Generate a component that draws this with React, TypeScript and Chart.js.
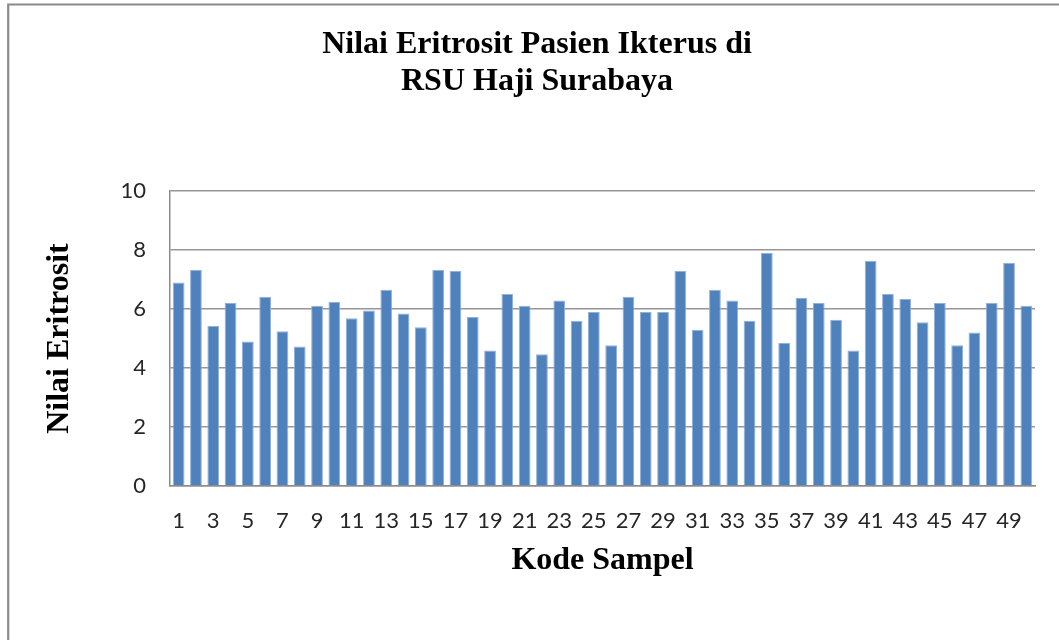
import React, { useEffect, useRef } from "react";
import { Chart, registerables } from "chart.js";

Chart.register(...registerables);

const titleLines = ["Nilai Eritrosit Pasien Ikterus di", "RSU Haji Surabaya"];
const xTitle = "Kode Sampel";
const yTitle = "Nilai Eritrosit";

const categories: string[] = [
  "1", "2", "3", "4", "5", "6", "7", "8", "9", "10",
  "11", "12", "13", "14", "15", "16", "17", "18", "19", "20",
  "21", "22", "23", "24", "25", "26", "27", "28", "29", "30",
  "31", "32", "33", "34", "35", "36", "37", "38", "39", "40",
  "41", "42", "43", "44", "45", "46", "47", "48", "49", "50",
];

const eritrosit: number[] = [
  6.9, 7.33, 5.43, 6.2, 4.9, 6.42, 5.25, 4.73, 6.11, 6.25,
  5.69, 5.95, 6.65, 5.85, 5.38, 7.33, 7.3, 5.73, 4.59, 6.51,
  6.11, 4.47, 6.29, 5.6, 5.9, 4.77, 6.42, 5.9, 5.9, 7.3,
  5.29, 6.65, 6.29, 5.6, 7.9, 4.85, 6.37, 6.2, 5.64, 4.59,
  7.64, 6.51, 6.34, 5.55, 6.2, 4.77, 5.2, 6.2, 7.56, 6.11,
];

const yMin = 0;
const yMax = 10;
const yStep = 2;

const framePlugin = {
  id: "frame",
  beforeDraw(chart: any) {
    const ctx = chart.ctx;
    ctx.save();
    ctx.fillStyle = "#ffffff";
    ctx.fillRect(0, 0, chart.width, chart.height);
    ctx.strokeStyle = "#8a8a8a";
    ctx.lineWidth = 2.2;
    ctx.beginPath();
    ctx.moveTo(8.2, chart.height);
    ctx.lineTo(8.2, 4.5);
    ctx.lineTo(chart.width, 4.5);
    ctx.stroke();
    ctx.restore();
  },
};

export default function App() {
  const canvasRef = useRef<HTMLCanvasElement | null>(null);

  useEffect(() => {
    if (!canvasRef.current) return;
    const chart = new Chart(canvasRef.current, {
      type: "bar",
      data: {
        labels: categories,
        datasets: [
          {
            label: yTitle,
            data: eritrosit,
            backgroundColor: "#4F81BD",
            borderColor: "#93B0D8",
            borderWidth: 1,
            barPercentage: 0.68,
            categoryPercentage: 1,
          },
        ],
      },
      options: {
        animation: false,
        responsive: false,
        maintainAspectRatio: false,
        layout: { padding: { left: 39, right: 24, top: 0, bottom: 0 } },
        plugins: {
          legend: { display: false },
          tooltip: { enabled: false },
          title: {
            display: true,
            text: titleLines,
            color: "#000000",
            font: { family: "'Liberation Serif', 'Times New Roman', serif", size: 32, weight: "bold", lineHeight: 1.16 },
            padding: { top: 26.5, bottom: 90.3 },
          },
        },
        scales: {
          x: {
            grid: { display: false, drawTicks: false },
            border: { display: true, color: "#8c8c8c", width: 1.5 },
            ticks: {
              autoSkip: false,
              maxRotation: 0,
              minRotation: 0,
              padding: 22,
              color: "#262626",
              font: { family: "Lato, 'Open Sans', sans-serif", size: 22 },
              callback: (_v: any, i: number) => (i % 2 === 0 ? categories[i] : ""),
            },
            title: {
              display: true,
              text: xTitle,
              color: "#000000",
              font: { family: "'Liberation Serif', 'Times New Roman', serif", size: 32, weight: "bold" },
              padding: { top: 0, bottom: 60 },
            },
            afterFit: (scale: any) => {
              scale.height = 154;
            },
          },
          y: {
            min: yMin,
            max: yMax,
            grid: { color: "#969696", lineWidth: 1.6, drawTicks: false },
            border: { display: true, color: "#8c8c8c", width: 1.5 },
            ticks: {
              stepSize: yStep,
              padding: 24,
              color: "#262626",
              font: { family: "Lato, 'Open Sans', sans-serif", size: 22 },
            },
            title: {
              display: true,
              text: yTitle,
              color: "#000000",
              font: { family: "'Liberation Serif', 'Times New Roman', serif", size: 32, weight: "bold" },
              padding: { top: 2, bottom: 0 },
            },
            afterFit: (scale: any) => {
              scale.width = 131;
            },
          },
        },
      },
      plugins: [framePlugin],
    });
    return () => chart.destroy();
  }, []);

  return (
    <div style={{ position: "absolute", left: 0, top: 0, width: 1059, height: 640 }}>
      <canvas ref={canvasRef} width={1059} height={640} style={{ display: "block" }} />
    </div>
  );
}
